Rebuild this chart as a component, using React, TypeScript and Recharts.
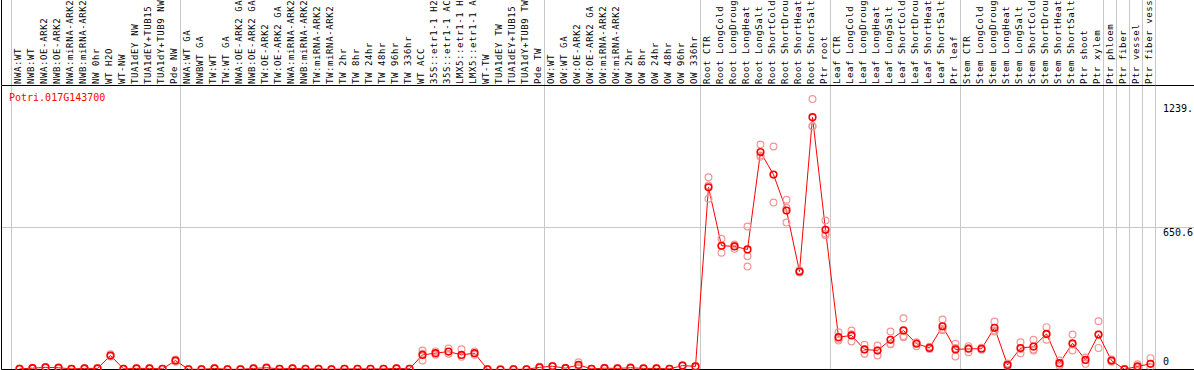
import React from 'react';
import { ComposedChart, Line, Scatter, XAxis, YAxis, ReferenceLine } from 'recharts';

const geneTitle = 'Potri.017G143700';

const categories: string[] = [
  'NWA:WT', 'NWB:WT', 'NWA:OE-ARK2', 'NWB:OE-ARK2', 'NWA:miRNA-ARK2', 'NWB:miRNA-ARK2', 'NW 0hr', 'WT H2O', 'WT-NW',
  'TUA1dEY NW', 'TUA1dEY+TUB15 NW', 'TUA1dY+TUB9 NW', 'Pde NW',
  'NWA:WT GA', 'NWBWT GA', 'TW:WT', 'TW:WT GA', 'NWA:OE-ARK2 GA', 'NWB:OE-ARK2 GA', 'TW:OE-ARK2', 'TW:OE-ARK2 GA',
  'NWA:miRNA-ARK2 GA', 'NWB:miRNA-ARK2 GA', 'TW:miRNA-ARK2', 'TW:miRNA-ARK2 GA', 'TW 2hr', 'TW 8hr', 'TW 24hr', 'TW 48hr',
  'TW 96hr', 'TW 336hr', 'WT ACC', '35S::etr1-1 H2O', '35S::etr1-1 ACC', 'LMX5::etr1-1 H2O', 'LMX5::etr1-1 ACC', 'WT-TW',
  'TUA1dEY TW', 'TUA1dEY+TUB15 TW', 'TUA1dY+TUB9 TW', 'Pde TW',
  'OW:WT', 'OW:WT GA', 'OW:OE-ARK2', 'OW:OE-ARK2 GA', 'OW:miRNA-ARK2', 'OW:miRNA-ARK2 GA', 'OW 2hr', 'OW 8hr', 'OW 24hr',
  'OW 48hr', 'OW 96hr', 'OW 336hr',
  'Root CTR', 'Root LongCold', 'Root LongDrought', 'Root LongHeat', 'Root LongSalt', 'Root ShortCold', 'Root ShortDrought',
  'Root ShortHeat', 'Root ShortSalt', 'Ptr root',
  'Leaf CTR', 'Leaf LongCold', 'Leaf LongDrought', 'Leaf LongHeat', 'Leaf LongSalt', 'Leaf ShortCold', 'Leaf ShortDrought',
  'Leaf ShortHeat', 'Leaf ShortSalt', 'Ptr leaf',
  'Stem CTR', 'Stem LongCold', 'Stem LongDrought', 'Stem LongHeat', 'Stem LongSalt', 'Stem ShortCold', 'Stem ShortDrought',
  'Stem ShortHeat', 'Stem ShortSalt', 'Ptr shoot', 'Ptr xylem',
  'Ptr phloem', 'Ptr fiber', 'Ptr vessel', 'Ptr fiber vessel',
];

const means: number[] = [
  3, 6, 10, 8, 3, 5, 5, 64, 3, 5, 5, 3, 41,
  1, 1, 5, 1, 1, 5, 8, 3, 5, 3, 3, 1, 3, 3, 3, 3, 5, 3, 67, 75, 82, 67, 75, 1, 0, 1, 1, 10,
  15, 6, 21, 3, 6, 5, 8, 5, 5, 3, 18, 14,
  835, 567, 564, 550, 996, 893, 728, 449, 1156, 640,
  148, 156, 92, 87, 136, 179, 118, 99, 198, 92,
  95, 95, 191, 21, 98, 105, 163, 29, 120, 44, 160,
  41, 1, 14, 26,
];

const replicates: number[][] = [
  [2, 5], [4, 8], [8, 12, 10], [6, 10], [2, 4], [4, 6], [4, 7], [60, 70], [2, 4], [4, 6], [4, 6], [2, 4], [46, 36],
  [0, 2], [0, 2], [4, 7], [0, 2], [0, 2], [4, 6], [6, 10], [2, 4], [4, 6], [2, 4], [2, 4], [0, 2], [2, 4], [2, 4],
  [2, 4], [2, 4], [4, 6], [2, 4], [87, 41, 72], [83, 68], [96, 72], [93, 58], [83, 68], [0, 2], [0, 1], [0, 2], [0, 2], [8, 13],
  [13, 17], [5, 8], [33, 10], [2, 4], [5, 8], [4, 6], [6, 10], [4, 6], [4, 6], [2, 4], [16, 20], [12, 16],
  [881, 843, 782], [599, 535, 567], [573, 553, 566], [655, 519, 472], [1031, 980, 975], [1022, 765], [778, 741, 673],
  [449, 455, 444], [1239, 1113, 1116], [683, 615, 622],
  [171, 133, 141], [179, 128, 161], [113, 72, 92], [110, 64, 87], [174, 118, 116], [235, 148, 154], [125, 107, 122],
  [104, 94], [229, 186, 180], [118, 60, 98],
  [79, 107, 99], [90, 100], [220, 179, 174], [16, 27], [125, 75, 94], [136, 92, 87], [194, 136, 160], [18, 41, 28],
  [160, 87, 114], [26, 55], [221, 99, 160],
  [36, 46], [0, 3], [24, 5], [52, 10],
];

// boundaries (category index where a new group begins), last one closes the final group
const groupStarts: number[] = [0, 13, 41, 53, 63, 73, 84, 85, 86, 87, 88];

const yTicks: number[] = [0, 650.6, 1239];
const yTickLabels: string[] = ['0', '650.6', '1239.'];
const yMax = 1301.2;

const data = categories.map((name, i) => ({ i, name, mean: means[i] }));
const repData = replicates.flatMap((r, i) => r.map((v) => ({ i, v })));
const xTicks = Array.from({ length: categories.length + 1 }, (_, k) => k);

// layout: 13 px per category, first point at x=19.5, plot spans 1.5 .. 1155.5, right label strip 38.5 px
const STEP = 13;
const AXIS_W = 38.5;
const X_MIN = -18 / STEP;
const X_MAX = (1194 - AXIS_W - 19.5) / STEP;
const GRID_OFFSET = 8 / STEP;

const MONO = '"DejaVu Sans Mono", monospace';
const GRID = '#c8c8c8';

const TopTick = (props: any) => {
  const { x, payload } = props;
  const idx = payload.value as number;
  const label = categories[idx];
  const boundary = groupStarts.includes(idx);
  return (
    <g>
      {boundary && <line x1={x - 8} x2={x - 8} y1={0} y2={85} stroke={GRID} strokeWidth={1} />}
      {idx === 0 && <line x1={x - 18} x2={x - 18} y1={0} y2={85} stroke="#000" strokeWidth={1} />}
      {idx === categories.length && <line x1={x - 8} x2={1194} y1={85.5} y2={85.5} stroke="#000" strokeWidth={1} />}
      {label && (
        <text
          transform={`translate(${x + 1.8},84) rotate(-90)`}
          fontFamily={MONO}
          fontSize={9}
          letterSpacing={0.6}
          textAnchor="start"
          fill="#000"
        >
          {label}
        </text>
      )}
    </g>
  );
};

const RightTick = (props: any) => {
  const { x, y, payload } = props;
  const k = yTicks.indexOf(payload.value);
  const dy = payload.value === 0 ? -5 : payload.value === 1239 ? 12.5 : 8.5;
  const left = 1194 - AXIS_W;
  return (
    <g>
      {payload.value === 650.6 && <line x1={left} x2={1194} y1={y} y2={y} stroke={GRID} strokeWidth={1} />}
      <text x={left + 7.5} y={y + dy} fontFamily={MONO} fontSize={10} fill="#000" textAnchor="start">
        {yTickLabels[k]}
      </text>
    </g>
  );
};

const TitleLabel = (props: any) => {
  const vb = props.viewBox || {};
  const bottom = (vb.y || 0) + (vb.height || 0);
  return (
    <text x={9} y={bottom + 15.5} fontFamily={MONO} fontSize={10} fill="#ff0000">
      {geneTitle}
    </text>
  );
};

const MeanDot = (props: any) => {
  const { cx, cy } = props;
  if (cx == null || cy == null) return null;
  return <circle cx={cx} cy={cy} r={3.3} fill="none" stroke="#ff0000" strokeWidth={1.6} />;
};

const RepDot = (props: any) => {
  const { cx, cy } = props;
  if (cx == null || cy == null) return null;
  return <circle cx={cx} cy={cy} r={3.4} fill="none" stroke="#f09696" strokeWidth={1.2} />;
};

export default function App() {
  return (
    <div
      style={{
        position: 'absolute',
        left: 0,
        top: 0,
        width: 1194,
        height: 370,
        overflow: 'hidden',
        background: '#fff',
      }}
    >
      <ComposedChart
        width={1194}
        height={370}
        data={data}
        margin={{ top: 0, right: 0, bottom: 0.5, left: 1.5 }}
      >
        <XAxis
          xAxisId="top"
          dataKey="i"
          type="number"
          orientation="top"
          height={85.5}
          domain={[X_MIN, X_MAX]}
          allowDataOverflow
          ticks={xTicks}
          interval={0}
          tick={<TopTick />}
          tickLine={false}
          axisLine={{ stroke: '#000', strokeWidth: 1 }}
          label={<TitleLabel />}
        />
        <YAxis
          yAxisId="v"
          type="number"
          orientation="right"
          width={AXIS_W}
          domain={[0, yMax]}
          allowDataOverflow
          ticks={yTicks}
          interval={0}
          tick={<RightTick />}
          tickLine={false}
          axisLine={false}
        />
        <ReferenceLine xAxisId="top" yAxisId="v" y={650.6} stroke={GRID} strokeWidth={1} />
        {groupStarts.map((g) => (
          <ReferenceLine
            key={g}
            xAxisId="top"
            yAxisId="v"
            x={g - GRID_OFFSET}
            stroke={GRID}
            strokeWidth={1}
            ifOverflow="visible"
          />
        ))}
        <ReferenceLine xAxisId="top" yAxisId="v" x={X_MIN} stroke="#000" strokeWidth={1} ifOverflow="visible" />
        <ReferenceLine
          xAxisId="top"
          yAxisId="v"
          segment={[{ x: X_MIN, y: 0 }, { x: X_MAX + AXIS_W / STEP, y: 0 }]}
          stroke="#000"
          strokeWidth={1}
          ifOverflow="visible"
        />
        <Scatter
          xAxisId="top"
          yAxisId="v"
          data={repData}
          dataKey="v"
          shape={<RepDot />}
          isAnimationActive={false}
        />
        <Line
          xAxisId="top"
          yAxisId="v"
          type="linear"
          dataKey="mean"
          stroke="#ff0000"
          strokeWidth={1}
          dot={<MeanDot />}
          activeDot={false}
          isAnimationActive={false}
        />
      </ComposedChart>
    </div>
  );
}
